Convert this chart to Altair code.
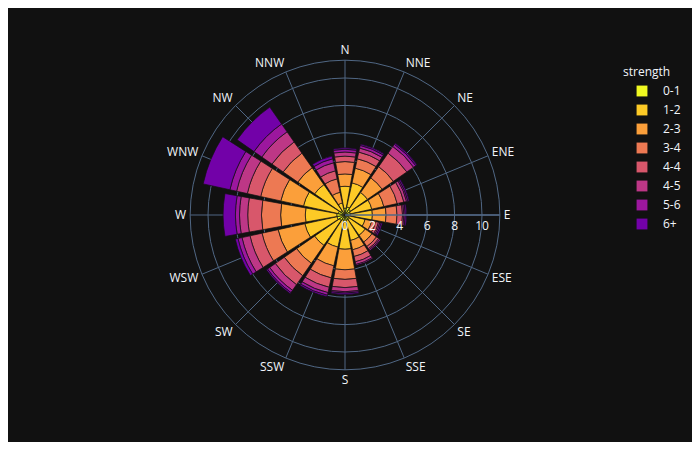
import math
import altair as alt
import pandas as pd

# ---------------- data ----------------
directions = ["N", "NNE", "NE", "ENE", "E", "ESE", "SE", "SSE",
              "S", "SSW", "SW", "WSW", "W", "WNW", "NW", "NNW"]
strengths = ["0-1", "1-2", "2-3", "3-4", "4-4", "4-5", "5-6", "6+"]

f_0_1 = [0.5, 0.6, 0.5, 0.4, 0.4, 0.3, 0.4, 0.4, 0.5, 0.4, 0.5, 0.6, 0.6, 0.5, 0.4, 0.1]
f_1_2 = [1.6, 1.8, 1.5, 1.6, 1.6, 1.2, 1.4, 1.5, 2.0, 2.0, 2.2, 2.4, 2.3, 2.6, 2.3, 0.8]
f_2_3 = [0.9, 1.1, 1.3, 0.9, 1.0, 0.5, 0.6, 0.7, 1.5, 1.4, 1.6, 2.0, 1.8, 1.7, 1.5, 0.8]
f_3_4 = [0.9, 0.7, 1.0, 1.0, 0.8, 0.3, 0.4, 0.5, 0.7, 0.9, 1.1, 1.2, 1.4, 1.5, 1.3, 1.0]
f_4_4 = [0.4, 0.5, 1.2, 0.5, 0.4, 0.2, 0.2, 0.4, 0.6, 0.7, 0.8, 0.9, 1.0, 1.0, 1.0, 0.6]
f_4_5 = [0.3, 0.3, 0.6, 0.2, 0.1, 0.1, 0.1, 0.2, 0.3, 0.4, 0.5, 0.6, 0.6, 0.8, 0.9, 0.6]
f_5_6 = [0.2, 0.2, 0.2, 0.1, 0.1, 0.1, 0.1, 0.1, 0.1, 0.2, 0.2, 0.3, 0.3, 0.5, 0.7, 0.3]
f_6p = [0.1, 0.1, 0.1, 0.1, 0.1, 0.1, 0.0, 0.0, 0.1, 0.1, 0.1, 0.2, 0.9, 2.0, 1.5, 0.2]
series = [f_0_1, f_1_2, f_2_3, f_3_4, f_4_4, f_4_5, f_5_6, f_6p]

colors = ["#f0f921", "#fdca26", "#fb9f3a", "#ed7953",
          "#d8576b", "#bd3786", "#9c179e", "#7201a8"]
radial_ticks = [0, 2, 4, 6, 8, 10]
ring_values = [2, 4, 6, 8, 10]
R_MAX = 11.3

rows = []
for si, (s, vals) in enumerate(zip(strengths, series)):
    for di, (d, v) in enumerate(zip(directions, vals)):
        rows.append(dict(direction=d, strength=s, frequency=v, d_idx=di, s_idx=si))
df = pd.DataFrame(rows)

dir_df = pd.DataFrame({"direction": directions, "d_idx": list(range(len(directions)))})
ring_df = pd.DataFrame({"r": ring_values + [R_MAX]})
tick_df = pd.DataFrame({"v": radial_ticks, "label": [str(t) for t in radial_ticks]})
axis_df = pd.DataFrame({"r": [R_MAX]})

# ---------------- layout ----------------
W, H = 684, 434
CX, CY = 337, 207      # polar centre inside the plot area
K = 13.7               # pixels per radial unit
R_PX = R_MAX * K
GRID = "#506784"
FG = "#f2f5fa"
BG = "#111111"
FONT = "Open Sans"
HALF = 22.5 * 0.9 / 2  # bargap 0.1

theta_scale = alt.Scale(domain=[0, 360], range=[0, 2 * math.pi])
radius_scale = alt.Scale(type="linear", domain=[0, R_MAX], range=[0, R_PX], nice=False)
x_scale = alt.Scale(domain=[-CX / K, (W - CX) / K], nice=False, zero=False)
y_scale = alt.Scale(domain=[-(H - CY) / K, CY / K], nice=False, zero=False)

rings = alt.Chart(ring_df).mark_arc(fillOpacity=0, stroke=GRID, strokeWidth=1).encode(
    x=alt.value(CX), y=alt.value(CY),
    theta=alt.value(0), theta2=alt.value(2 * math.pi),
    radius=alt.Radius("r:Q", scale=radius_scale, stack=False),
)

spokes = alt.Chart(dir_df).transform_calculate(
    a="datum.d_idx * 22.5 * PI / 180",
    x0="0", y0="0",
).transform_calculate(
    x1=f"{R_MAX} * sin(datum.a)", y1=f"{R_MAX} * cos(datum.a)",
).mark_rule(color=GRID, strokeWidth=1).encode(
    x=alt.X("x0:Q", scale=x_scale, axis=None),
    y=alt.Y("y0:Q", scale=y_scale, axis=None),
    x2="x1:Q", y2="y1:Q",
)

bars = alt.Chart(df).transform_window(
    cum="sum(frequency)", groupby=["direction"],
    sort=[alt.SortField("s_idx")], frame=[None, 0],
).transform_calculate(
    r0="datum.cum - datum.frequency",
    t0=f"datum.d_idx * 22.5 - {HALF}",
    t1=f"datum.d_idx * 22.5 + {HALF}",
).mark_arc(stroke=BG, strokeWidth=0.7).encode(
    x=alt.value(CX), y=alt.value(CY),
    theta=alt.Theta("t0:Q", scale=theta_scale, stack=False),
    theta2="t1:Q",
    radius=alt.Radius("cum:Q", scale=radius_scale, stack=False),
    radius2="r0:Q",
    color=alt.Color(
        "strength:N",
        scale=alt.Scale(domain=strengths, range=colors),
        title=None,
        legend=alt.Legend(
            orient="none", legendX=628, legendY=77,
            symbolType="square", symbolSize=118, symbolStrokeWidth=0,
            symbolOpacity=1,
            labelFontSize=12, labelColor=FG, labelFont=FONT,
            labelOffset=15, rowPadding=7, padding=0,
        ),
    ),
)

axis_line = alt.Chart(axis_df).transform_calculate(
    x0="0", y0="0", x1="datum.r", y1="0",
).mark_rule(color=GRID, strokeWidth=1.5).encode(
    x=alt.X("x0:Q", scale=x_scale, axis=None),
    y=alt.Y("y0:Q", scale=y_scale, axis=None),
    x2="x1:Q", y2="y1:Q",
)

tick_labels = alt.Chart(tick_df).transform_calculate(y0="0").mark_text(
    align="center", baseline="middle", dy=11, fontSize=12, color=FG, font=FONT,
).encode(
    x=alt.X("v:Q", scale=x_scale, axis=None),
    y=alt.Y("y0:Q", scale=y_scale, axis=None),
    text="label:N",
)

ang_base = alt.Chart(dir_df).transform_calculate(
    a="datum.d_idx * 22.5 * PI / 180",
).transform_calculate(
    s="sin(datum.a)",
    lx=f"({R_MAX} + {4 / K}) * sin(datum.a)",
    ly=f"({R_MAX} + {10 / K}) * cos(datum.a)",
)


def ang_layer(cond, align):
    return ang_base.transform_filter(cond).mark_text(
        align=align, baseline="middle", fontSize=12, color=FG, font=FONT,
    ).encode(
        x=alt.X("lx:Q", scale=x_scale, axis=None),
        y=alt.Y("ly:Q", scale=y_scale, axis=None),
        text="direction:N",
    )


ang_left = ang_layer("datum.s > 0.01", "left")
ang_right = ang_layer("datum.s < -0.01", "right")
ang_center = ang_layer("abs(datum.s) <= 0.01", "center")

legend_title = alt.Chart(pd.DataFrame({"t": ["strength"]})).mark_text(
    align="left", baseline="middle", fontSize=12, color=FG, font=FONT,
).encode(x=alt.value(615), y=alt.value(64), text="t:N")

chart = alt.layer(
    rings, spokes, bars, axis_line, tick_labels,
    ang_left, ang_right, ang_center, legend_title,
).properties(
    width=W, height=H, padding=0,
    autosize=alt.AutoSizeParams(type="none"),
    background=BG,
).configure(font=FONT).configure_view(strokeWidth=0)

chart.save("out.html", embed_options={"renderer": "svg", "actions": False})
